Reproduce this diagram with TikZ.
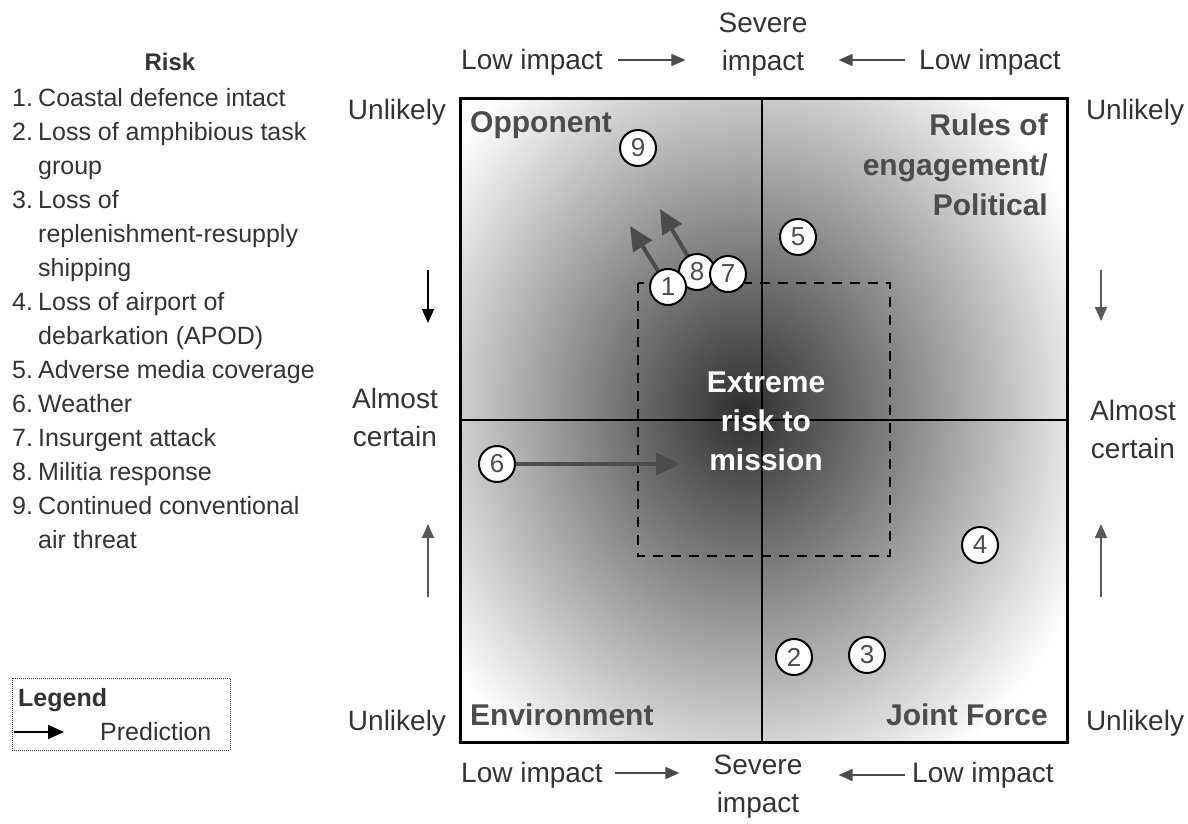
\documentclass[tikz,border=0pt]{standalone}
\usepackage{fontspec}
\setmainfont{Liberation Sans}
\usetikzlibrary{arrows.meta}

\tikzset{
  risk/.style={circle, draw, line width=2pt, fill=white, minimum size=36pt, inner sep=0pt,
    font=\fontsize{26}{26}\selectfont, text=black!70},
  axis/.style={inner sep=0pt, align=center, text=black!80, font=\fontsize{28}{38}\selectfont},
  quad/.style={inner sep=0pt, text=black!70, font=\bfseries\fontsize{30}{40}\selectfont},
  pred/.style={line width=4pt, draw=black!70, fill=black!70, -{Triangle[length=24pt,width=22pt]}},
  side/.style={line width=1.6pt, -{Triangle[length=14pt,width=12pt]}},
}

\begin{document}
\begin{tikzpicture}[x=1pt, y=-1pt]
	\useasboundingbox (0,0) rectangle (1188,823);
	% matrix corners
	\coordinate (nw) at (460,98);
	\coordinate (se) at (1067,742);
	\begin{scope}
		\clip (nw) rectangle (se);
		\shade[inner color=black!82, outer color=white] (745,410) ellipse (370 and 420);
	\end{scope}
	\draw[line width=2.5pt] (762,98) -- (762,742);
	\draw[line width=2.5pt] (460,420) -- (1067,420);
	\draw[line width=3pt] (nw) rectangle (se);
	\draw[line width=2.5pt, dash pattern=on 10pt off 8pt] (638,283) rectangle (890,556);

	% quadrants
	\node[quad, anchor=west] (opp) at (470,125) {Opponent};
	\node[quad, anchor=east, align=right] (roe) at (1048,165) {Rules of\\engagement/\\Political};
	\node[quad, anchor=west] (env) at (470,715) {Environment};
	\node[quad, anchor=east] (jf) at (1048,715) {Joint Force};
	\node[quad, text=white, align=center, font=\bfseries\fontsize{30}{39}\selectfont] (ext) at (766,421) {Extreme\\risk to\\mission};

	% predictions
	\coordinate (p1) at (630,226);
	\coordinate (p8) at (660,209);
	\coordinate (p6) at (680,464);
	\node[risk] (9) at (638,148) {9};
	\node[risk] (5) at (798,237) {5};
	\node[risk] (6) at (497,464) {6};
	\node[risk] (4) at (980,545) {4};
	\node[risk] (2) at (794,657) {2};
	\node[risk] (3) at (867,655) {3};
	\draw[pred] (668,287) -- (p1);
	\draw[pred] (697,272) -- (p8);
	\draw[pred] (6) -- (p6);
	\node[risk] (8) at (697,272) {8};
	\node[risk] (7) at (728,274) {7};
	\node[risk] (1) at (668,287) {1};

	% impact axis
	\node[axis] (sevt) at (763,45) {Severe\\impact};
	\node[axis] (lowtl) at (532,62) {Low impact};
	\node[axis] (lowtr) at (990,62) {Low impact};
	\draw[side, draw=black!70, shorten <=15pt, shorten >=33pt] ([yshift=2pt]lowtl.east) -- ([yshift=2pt]lowtl.east -| sevt.west);
	\draw[side, draw=black!70, shorten <=14pt, shorten >=31pt] ([yshift=2pt]lowtr.west) -- ([yshift=2pt]lowtr.west -| sevt.east);
	\node[axis] (sevb) at (758,787) {Severe\\impact};
	\node[axis] (lowbl) at (532,775) {Low impact};
	\node[axis] (lowbr) at (983,775) {Low impact};
	\draw[side, draw=black!70, shorten <=12pt, shorten >=34pt] ([yshift=2pt]lowbl.east) -- ([yshift=2pt]lowbl.east -| sevb.west);
	\draw[side, draw=black!70, shorten <=7pt, shorten >=36pt] (lowbr.west) -- (lowbr.west -| sevb.east);

	% likelihood axis
	\node[axis] (ultl) at (397,112) {Unlikely};
	\node[axis] (acl) at (395,417) {Almost\\certain};
	\node[axis] (ulbl) at (397,723) {Unlikely};
	\node[axis] (ultr) at (1135,112) {Unlikely};
	\node[axis] (acr) at (1133,429) {Almost\\certain};
	\node[axis] (ulbr) at (1135,723) {Unlikely};
	\coordinate (ld1) at (428,270); \coordinate (ld2) at (428,323);
	\coordinate (lu1) at (428,597); \coordinate (lu2) at (428,524);
	\coordinate (rd1) at (1101,270); \coordinate (rd2) at (1101,321);
	\coordinate (ru1) at (1101,597); \coordinate (ru2) at (1101,524);
	\draw[side] (ld1) -- (ld2);
	\draw[side, draw=black!65] (lu1) -- (lu2);
	\draw[side, draw=black!65] (rd1) -- (rd2);
	\draw[side, draw=black!65] (ru1) -- (ru2);

	% risk list
	\node[inner sep=0pt, text=black!80, font=\bfseries\fontsize{24}{30}\selectfont] (risk) at (170,62) {Risk};
	\node[inner sep=0pt, anchor=north west, text=black!80, font=\fontsize{25}{34}\selectfont] (list) at (12,82) {%
		\begin{tabular}{@{}p{26pt}@{}l@{}}
		1. & Coastal defence intact\\
		2. & Loss of amphibious task\\
		   & group\\
		3. & Loss of\\
		   & replenishment-resupply\\
		   & shipping\\
		4. & Loss of airport of\\
		   & debarkation (APOD)\\
		5. & Adverse media coverage\\
		6. & Weather\\
		7. & Insurgent attack\\
		8. & Militia response\\
		9. & Continued conventional\\
		   & air threat
		\end{tabular}};

	% legend
	\coordinate (lg1) at (12,678);
	\coordinate (lg2) at (230,750);
	\draw[line width=1pt, densely dotted, black!80] (lg1) rectangle (lg2);
	\node[inner sep=0pt, anchor=west, text=black!80, font=\bfseries\fontsize{25}{30}\selectfont] (leg) at (18,700) {Legend};
	\node[inner sep=0pt, anchor=west, text=black!80, font=\fontsize{25}{30}\selectfont] (predt) at (100,732) {Prediction};
	\coordinate (la) at (14,732);
	\draw[side, line width=2pt, -{Triangle[length=16pt,width=14pt]}] (la) -- ([xshift=-36pt]predt.west);
\end{tikzpicture}
\end{document}
